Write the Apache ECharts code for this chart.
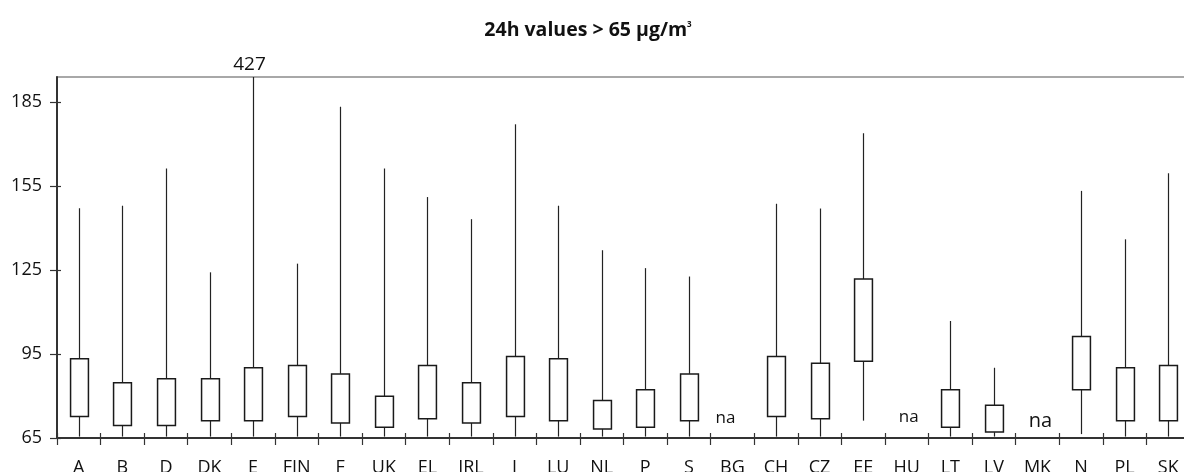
<!DOCTYPE html>
<html>
<head>
<meta charset="utf-8">
<script src="https://cdn.jsdelivr.net/npm/echarts@6/dist/echarts.min.js"></script>
<style>html,body{margin:0;padding:0;background:#fff}#c{width:1184px;height:472px}</style>
</head>
<body>
<div id="c"></div>
<script>
const categories = ['A','B','D','DK','E','FIN','F','UK','EL','IRL','I','LU','NL','P','S','BG','CH','CZ','EE','HU','LT','LV','MK','N','PL','SK'];
const minValues = [65.5,65.5,65.5,65.5,65.5,65.5,65.5,65.5,65.5,65.5,65.5,65.5,65.5,65.5,65.5,null,65.5,65.5,71.2,null,65.5,65.5,null,66.4,65.5,65.5];
const q1Values  = [72.7,69.5,69.5,71.2,71.2,72.7,70.4,68.8,71.9,70.4,72.7,71.2,68.2,68.8,71.2,null,72.7,71.9,92.4,null,68.8,67.1,null,82.2,71.2,71.2];
const q3Values  = [93.3,84.7,86.2,86.2,90.1,90.9,87.9,79.9,90.9,84.7,94.1,93.3,78.4,82.2,87.9,null,94.1,91.7,121.8,null,82.2,76.7,null,101.3,90.1,90.9];
const maxValues = [147.1,148,161.3,124.2,427,127.3,183.4,161.3,151.1,143.2,177.1,148,132.1,125.7,122.7,null,148.7,147,173.9,null,106.8,90.1,null,153.3,136,159.6];
const yTicks = [65,95,125,155,185];
const naText = 'na';

const FONT = '"Open Sans"';
// styling of the "na" notes (font size and small offsets), by category
const naStyle = {BG: {size: 17, dx: -7, dy: 11}, HU: {size: 17, dx: 2, dy: 12}, MK: {size: 20, dx: 3, dy: 7}};

const boxData = [];
const naData = [];
categories.forEach((c, i) => {
  if (maxValues[i] == null) naData.push([i, yTicks[0]]);
  else boxData.push([i, minValues[i], q1Values[i], q3Values[i], maxValues[i]]);
});

const chart = echarts.init(document.getElementById('c'), null, {renderer: 'canvas'});
const yMin = yTicks[0], yMax = 194;

chart.setOption({
  animation: false,
  backgroundColor: '#fff',
  title: {
    text: '{b|24h values > 65 μg/m}{s|3}',
    left: 588, textAlign: 'center', top: 20, padding: 0,
    textStyle: {
      rich: {
        b: {fontFamily: FONT, fontWeight: 'bold', fontSize: 19.5, color: '#111'},
        s: {fontFamily: FONT, fontSize: 8, color: '#111', padding: [0,0,11,0]}
      }
    }
  },
  grid: {left: 57, right: -6, top: 77, bottom: 34, outerBoundsMode: 'none', containLabel: false,
         show: true, borderColor: '#8c8c8c', borderWidth: 1.5, backgroundColor: 'transparent'},
  xAxis: [{
    type: 'category', data: categories, position: 'bottom',
    axisLine: {show: true, lineStyle: {color: '#333', width: 2}},
    axisTick: {show: true, length: 7, lineStyle: {color: '#333', width: 1.2}},
    axisLabel: {fontFamily: FONT, fontSize: 18, color: '#111', margin: 21},
    splitLine: {show: false}
  }, {
    type: 'category', data: categories, position: 'bottom',
    axisLine: {show: false},
    axisTick: {show: true, inside: true, length: 5, lineStyle: {color: '#333', width: 1.2}},
    axisLabel: {show: false},
    splitLine: {show: false}
  }],
  yAxis: [{
    type: 'value', min: yMin, max: yMax, interval: 30, position: 'left',
    axisLine: {show: true, lineStyle: {color: '#333', width: 2}},
    axisTick: {show: true, length: 7, customValues: yTicks, lineStyle: {color: '#333', width: 1.2}},
    axisLabel: {fontFamily: FONT, fontSize: 18, color: '#111', margin: 15, customValues: yTicks},
    splitLine: {show: false}
  }, {
    type: 'value', min: yMin, max: yMax, interval: 30, position: 'left',
    axisLine: {show: false},
    axisTick: {show: true, inside: true, length: 4, customValues: yTicks, lineStyle: {color: '#333', width: 1.2}},
    axisLabel: {show: false},
    splitLine: {show: false}
  }],
  series: [{
    type: 'custom',
    xAxisIndex: 0, yAxisIndex: 0,
    data: boxData,
    encode: {x: 0, y: [1,2,3,4]},
    renderItem: function (params, api) {
      const i = api.value(0);
      const cs = params.coordSys;
      const w = api.size([1, 0])[0] * 0.41;
      const pMin = api.coord([i, api.value(1)]);
      const pQ1 = api.coord([i, api.value(2)]);
      const pQ3 = api.coord([i, api.value(3)]);
      const pMax = api.coord([i, api.value(4)]);
      const x = Math.round(pQ1[0]) + 0.5;
      const topY = Math.max(pMax[1], cs.y);
      const children = [
        {type: 'line', shape: {x1: x, y1: pQ3[1], x2: x, y2: topY}, style: {stroke: '#222', lineWidth: 1.2}},
        {type: 'line', shape: {x1: x, y1: pQ1[1], x2: x, y2: pMin[1]}, style: {stroke: '#222', lineWidth: 1.2}},
        {type: 'rect', shape: {x: x - w / 2, y: pQ3[1], width: w, height: pQ1[1] - pQ3[1]}, style: {fill: '#fff', stroke: '#1a1a1a', lineWidth: 1.5}}
      ];
      if (pMax[1] < cs.y) {
        children.push({type: 'text', x: x - 4, y: cs.y - 3, style: {text: String(api.value(4)), fontFamily: FONT, fontSize: 19, fill: '#111', align: 'center', verticalAlign: 'bottom'}});
      }
      return {type: 'group', children: children};
    },
    z: 5
  }, {
    type: 'custom',
    xAxisIndex: 0, yAxisIndex: 0,
    data: naData,
    encode: {x: 0, y: 1},
    renderItem: function (params, api) {
      const idx = api.value(0);
      const st = naStyle[categories[idx]] || {size: 17, dx: 0, dy: 11};
      const p = api.coord([idx, api.value(1)]);
      return {type: 'text', x: p[0] + st.dx, y: p[1] - st.dy, style: {text: naText, fontFamily: FONT, fontSize: st.size, fill: '#111', align: 'center', verticalAlign: 'bottom'}};
    },
    z: 5
  }]
});
</script>
</body>
</html>
